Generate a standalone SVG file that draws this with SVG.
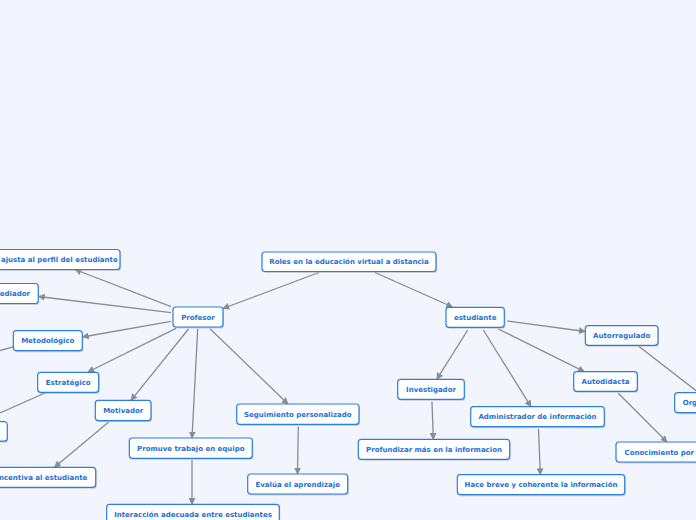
<svg xmlns="http://www.w3.org/2000/svg" width="696" height="520" viewBox="0 0 696 520">
<style>
.bg{fill:#f2f5fd}
.sh{fill:#8f9bb0;opacity:.45}
.bx{fill:#ffffff;stroke:#2a7de1;stroke-width:1.2}
.t{font-family:"DejaVu Sans",Verdana,sans-serif;font-weight:bold;font-size:7px;fill:#1a6fd6;text-anchor:middle}
.e{text-anchor:end}
.s{text-anchor:start}
.c line{stroke:#898c93;stroke-width:1.3;fill:none}
.c .a{marker-end:url(#ah)}
</style>
<defs>
<marker id="ah" viewBox="0 0 10 10" refX="9" refY="5" markerWidth="7" markerHeight="7" markerUnits="userSpaceOnUse" orient="auto">
<path d="M0,0 L10,5 L0,10 z" fill="#898c93"/>
</marker>
</defs>
<rect class="bg" x="0" y="0" width="696" height="520"/>

<g class="c" id="connectors">
<line class="a" x1="319" y1="272.5" x2="223" y2="308.5"/>
<line class="a" x1="375" y1="272.5" x2="452.5" y2="307"/>
<line class="a" x1="171" y1="306.7" x2="75" y2="269.5"/>
<line class="a" x1="171" y1="312.7" x2="38.5" y2="296.5"/>
<line class="a" x1="171" y1="321.3" x2="82.5" y2="337"/>
<line class="a" x1="176" y1="328.3" x2="88" y2="372"/>
<line class="a" x1="188.5" y1="329" x2="131" y2="400.3"/>
<line class="a" x1="197.7" y1="329" x2="192" y2="438"/>
<line class="a" x1="210" y1="328.7" x2="288" y2="404"/>
<line x1="14" y1="346.5" x2="0" y2="350.5"/>
<line x1="45" y1="393" x2="0" y2="413"/>
<line class="a" x1="108.7" y1="422" x2="54.5" y2="467.3"/>
<line class="a" x1="192" y1="460" x2="192" y2="504.3"/>
<line class="a" x1="298.3" y1="426.5" x2="297.5" y2="474"/>
<line class="a" x1="467.7" y1="330" x2="436.8" y2="379.3"/>
<line class="a" x1="483.3" y1="330" x2="531" y2="406.7"/>
<line class="a" x1="498.3" y1="329" x2="584.3" y2="371.7"/>
<line class="a" x1="507.3" y1="321" x2="585.3" y2="331.5"/>
<line class="a" x1="432" y1="401.7" x2="433.3" y2="439.3"/>
<line class="a" x1="538.5" y1="429" x2="540.3" y2="474.7"/>
<line class="a" x1="639" y1="346.5" x2="703" y2="396"/>
<line class="a" x1="618.3" y1="393.3" x2="667" y2="442"/>
</g>

<g id="n-roles">
<rect class="sh" x="263" y="253.5" width="174" height="19.5" rx="3"/>
<rect class="bx" x="262" y="252" width="174" height="19.5" rx="3"/>
<text class="t" x="349" y="264.2">Roles en la educación virtual a distancia</text>
</g>
<g id="n-profesor">
<rect class="sh" x="174" y="308.5" width="50" height="20" rx="3"/>
<rect class="bx" x="173" y="307" width="50" height="20" rx="3"/>
<text class="t" x="198" y="319.5">Profesor</text>
</g>
<g id="n-estudiante">
<rect class="sh" x="447" y="308.8" width="58.3" height="20" rx="3"/>
<rect class="bx" x="446" y="307.3" width="58.3" height="20" rx="3"/>
<text class="t" x="475.2" y="319.8">estudiante</text>
</g>
<g id="n-ajusta">
<rect class="sh" x="-9" y="251" width="130" height="20" rx="3"/>
<rect class="bx" x="-10" y="249.5" width="130" height="20" rx="3"/>
<text class="t s" x="1" y="262">ajusta al perfil del estudiante</text>
</g>
<g id="n-mediador">
<rect class="sh" x="-9" y="285" width="48" height="20" rx="3"/>
<rect class="bx" x="-10" y="283.5" width="48.3" height="20" rx="3"/>
<text class="t e" x="30" y="296">ediador</text>
</g>
<g id="n-metodologico">
<rect class="sh" x="14.3" y="332.2" width="69" height="20" rx="3"/>
<rect class="bx" x="13.3" y="330.7" width="69" height="20" rx="3"/>
<text class="t" x="47.8" y="343.2">Metodológico</text>
</g>
<g id="n-estrategico">
<rect class="sh" x="38.7" y="373.8" width="61" height="20" rx="3"/>
<rect class="bx" x="37.7" y="372.3" width="61" height="20" rx="3"/>
<text class="t" x="68.2" y="384.8">Estratégico</text>
</g>
<g id="n-hidden-left">
<rect class="sh" x="-9" y="423.2" width="17" height="19.5" rx="3"/>
<rect class="bx" x="-10" y="421.7" width="17.3" height="19.5" rx="3"/>
</g>
<g id="n-motivador">
<rect class="sh" x="96.3" y="401.8" width="55.7" height="20.3" rx="3"/>
<rect class="bx" x="95.3" y="400.3" width="55.7" height="20.3" rx="3"/>
<text class="t" x="123.2" y="413">Motivador</text>
</g>
<g id="n-incentiva">
<rect class="sh" x="-9" y="468.8" width="105.7" height="20" rx="3"/>
<rect class="bx" x="-10" y="467.3" width="105.7" height="20" rx="3"/>
<text class="t e" x="87.3" y="479.8">ncentiva al estudiante</text>
</g>
<g id="n-promuve">
<rect class="sh" x="130.3" y="439.5" width="123" height="20.3" rx="3"/>
<rect class="bx" x="129.3" y="438" width="123" height="20.3" rx="3"/>
<text class="t" x="190.8" y="450.7">Promuve trabajo en equipo</text>
</g>
<g id="n-interaccion">
<rect class="sh" x="107.7" y="505.8" width="172.6" height="20" rx="3"/>
<rect class="bx" x="106.7" y="504.3" width="172.6" height="20" rx="3"/>
<text class="t" x="193" y="516.7">Interacción adecuada entre estudiantes</text>
</g>
<g id="n-seguimiento">
<rect class="sh" x="237.7" y="405.5" width="122.3" height="20.3" rx="3"/>
<rect class="bx" x="236.7" y="404" width="122.3" height="20.3" rx="3"/>
<text class="t" x="297.8" y="416.7">Seguimiento personalizado</text>
</g>
<g id="n-evalua">
<rect class="sh" x="248.7" y="475.5" width="100" height="20" rx="3"/>
<rect class="bx" x="247.7" y="474" width="100" height="20" rx="3"/>
<text class="t" x="297.7" y="486.5">Evalúa el aprendizaje</text>
</g>
<g id="n-investigador">
<rect class="sh" x="398.7" y="380.8" width="66.6" height="20" rx="3"/>
<rect class="bx" x="397.7" y="379.3" width="66.6" height="20" rx="3"/>
<text class="t" x="431" y="391.8">Investigador</text>
</g>
<g id="n-profundizar">
<rect class="sh" x="359.3" y="440.8" width="151.4" height="20" rx="3"/>
<rect class="bx" x="358.3" y="439.3" width="151.4" height="20" rx="3"/>
<text class="t" x="434" y="451.8">Profundizar más en la informacion</text>
</g>
<g id="n-administrador">
<rect class="sh" x="471.7" y="408.2" width="133.6" height="20" rx="3"/>
<rect class="bx" x="470.7" y="406.7" width="133.6" height="20" rx="3"/>
<text class="t" x="537.5" y="419.2">Administrador de información</text>
</g>
<g id="n-hace">
<rect class="sh" x="458.3" y="476.2" width="167.4" height="20" rx="3"/>
<rect class="bx" x="457.3" y="474.7" width="167.4" height="20" rx="3"/>
<text class="t" x="541" y="487.2">Hace breve y coherente la información</text>
</g>
<g id="n-autorregulado">
<rect class="sh" x="586.3" y="327.2" width="72.7" height="19.6" rx="3"/>
<rect class="bx" x="585.3" y="325.7" width="72.7" height="19.6" rx="3"/>
<text class="t" x="621.7" y="338">Autorregulado</text>
</g>
<g id="n-autodidacta">
<rect class="sh" x="574.7" y="373.2" width="63.6" height="19.6" rx="3"/>
<rect class="bx" x="573.7" y="371.7" width="63.6" height="19.6" rx="3"/>
<text class="t" x="605.5" y="384">Autodidacta</text>
</g>
<g id="n-org">
<rect class="sh" x="675.7" y="394.2" width="30" height="20" rx="3"/>
<rect class="bx" x="674.7" y="392.7" width="30" height="20" rx="3"/>
<text class="t s" x="682.7" y="405.2">Org</text>
</g>
<g id="n-conocimiento">
<rect class="sh" x="617" y="443.5" width="90" height="20" rx="3"/>
<rect class="bx" x="616" y="442" width="90" height="20" rx="3"/>
<text class="t s" x="624.5" y="454.5">Conocimiento por</text>
</g>
</svg>
